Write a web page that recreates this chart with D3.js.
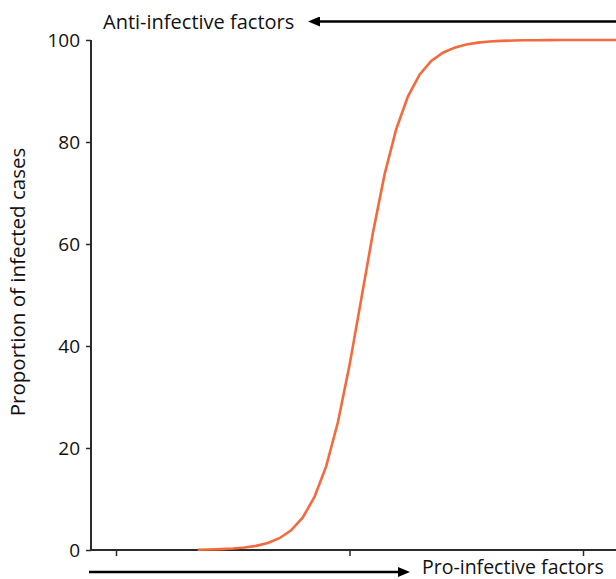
<!DOCTYPE html>
<html><head><meta charset="utf-8">
<script src="https://cdn.jsdelivr.net/npm/d3@7"></script>
<style>body{margin:0;background:#fff}svg text{font-family:"Open Sans",sans-serif}</style>
</head><body><svg id="c" width="616" height="579"></svg>
<script>
const xValues = [-6.5,-6,-5.5,-5,-4.5,-4,-3.5,-3,-2.5,-2,-1.5,-1,-0.5,0,0.5,1,1.5,2,2.5,3,3.5,4,4.5,5,5.5,6,6.5,7,7.5,8,8.5,9,9.5,10,10.5,11,11.5];
const infected = [0.06,0.1,0.17,0.28,0.48,0.81,1.37,2.31,3.86,6.38,10.4,16.4,25.0,36.2,49.1,62.1,73.6,82.5,88.9,93.2,95.9,97.5,98.5,99.13,99.49,99.7,99.82,99.89,99.94,99.96,99.98,99.99,100,100,100,100,100];
const yTicks = [0,20,40,60,80,100];
const xTicks = [-10,0,10];
const topLabel = "Anti-infective factors";
const bottomLabel = "Pro-infective factors";
const yTitle = "Proportion of infected cases";

const svg = d3.select("#c");
const x = d3.scaleLinear().domain([-10,10]).range([116,583]);
const y = d3.scaleLinear().domain([0,100]).range([550,40]);
const axisColor = "#2b2b2b";

svg.append("defs").append("marker").attr("id","ah").attr("viewBox","0 0 10 10")
  .attr("refX",0).attr("refY",5).attr("markerWidth",12).attr("markerHeight",10)
  .attr("markerUnits","userSpaceOnUse").attr("orient","auto")
  .attr("preserveAspectRatio","none")
  .append("path").attr("d","M0,0L10,5L0,10Z").attr("fill","#000");

// y axis
const ya = svg.append("g").attr("transform","translate(91,0)")
  .call(d3.axisLeft(y).tickValues(yTicks).tickSize(5).tickPadding(6));
ya.select(".domain").attr("stroke",axisColor).attr("stroke-width",2).attr("d","M0,40V551");
ya.selectAll(".tick line").attr("stroke",axisColor).attr("stroke-width",1.5);
ya.selectAll(".tick text").attr("font-size",19).attr("fill","#111").attr("font-family","Open Sans");

// x axis
const xa = svg.append("g").attr("transform","translate(0,550)")
  .call(d3.axisBottom(x).tickValues(xTicks).tickSize(6).tickFormat(""));
xa.select(".domain").attr("stroke",axisColor).attr("stroke-width",2.2).attr("d","M90,0H616");
xa.selectAll(".tick line").attr("stroke",axisColor).attr("stroke-width",1.5);

// curve
svg.append("path").datum(xValues.map((v,i)=>[v,infected[i]]))
  .attr("fill","none").attr("stroke","#f26a3d").attr("stroke-width",2.6)
  .attr("d",d3.line().x(d=>x(d[0])).y(d=>y(d[1])));

// top arrow
svg.append("line").attr("x1",616).attr("x2",320).attr("y1",21.5).attr("y2",21.5)
  .attr("stroke","#000").attr("stroke-width",2.6).attr("marker-end","url(#ah)");
svg.append("text").attr("x",103).attr("y",29).attr("font-size",20).attr("fill","#111").text(topLabel);

// bottom arrow
svg.append("line").attr("x1",89).attr("x2",398).attr("y1",572).attr("y2",572)
  .attr("stroke","#000").attr("stroke-width",2.6).attr("marker-end","url(#ah)");
svg.append("text").attr("x",422).attr("y",574).attr("font-size",19.5).attr("fill","#111").text(bottomLabel);

// y title
svg.append("text").attr("transform","translate(25,282) rotate(-90)").attr("text-anchor","middle")
  .attr("font-size",20.5).attr("fill","#111").text(yTitle);
</script></body></html>
